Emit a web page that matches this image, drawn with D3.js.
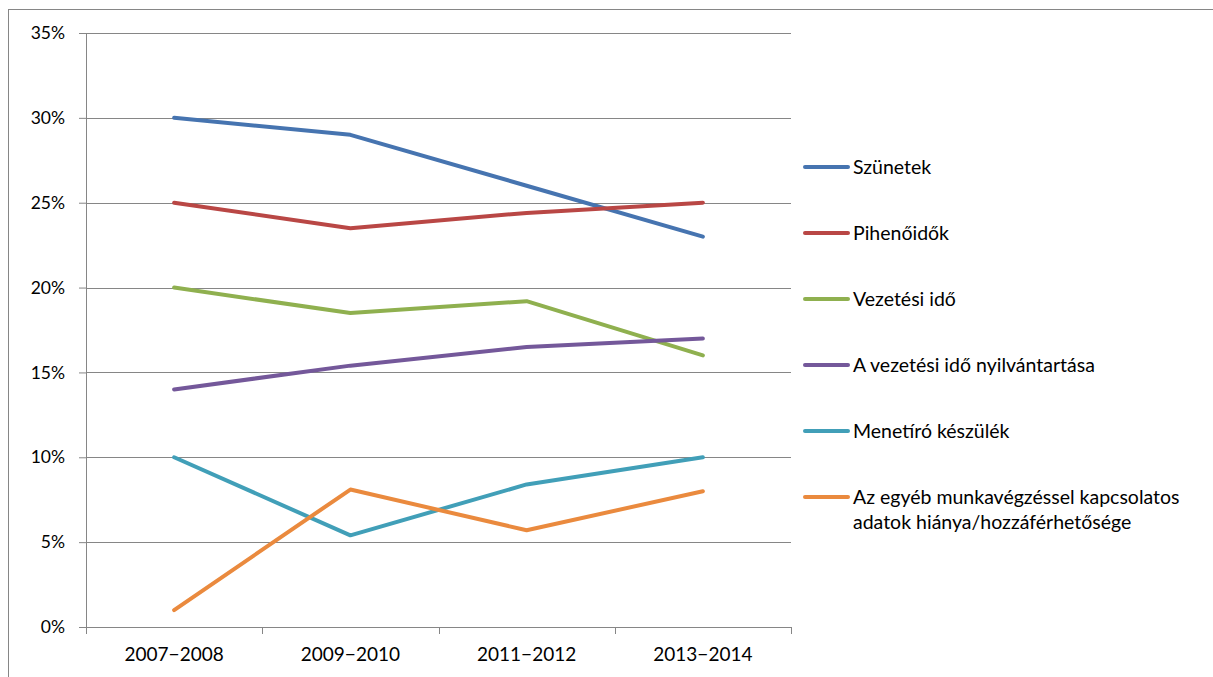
<!DOCTYPE html>
<html>
<head>
<meta charset="utf-8">
<script src="https://cdn.jsdelivr.net/npm/d3@7"></script>
<style>
  body { margin: 0; background: #fff; }
  svg text { font-family: Lato, "Open Sans", sans-serif; fill: #000; }
</style>
</head>
<body>
<div id="chart"></div>
<script>
// data
const periods = ["2007\u22122008", "2009\u22122010", "2011\u22122012", "2013\u22122014"];
const seriesNames = [
  "Szünetek",
  "Pihenőidők",
  "Vezetési idő",
  "A vezetési idő nyilvántartása",
  "Menetíró készülék",
  "Az egyéb munkavégzéssel kapcsolatos adatok hiánya/hozzáférhetősége"
];
const szunetek = [30, 29, 26, 23];
const pihenoidok = [25, 23.5, 24.4, 25];
const vezetesiIdo = [20, 18.5, 19.2, 16];
const nyilvantartas = [14, 15.4, 16.5, 17];
const menetiro = [10, 5.4, 8.4, 10];
const egyeb = [1, 8.1, 5.7, 8];
const yTicks = [0, 5, 10, 15, 20, 25, 30, 35];
const colors = ["#4674b0", "#b94745", "#8fb04f", "#74589a", "#419fb8", "#ea8a3e"];

const allValues = [szunetek, pihenoidok, vezetesiIdo, nyilvantartas, menetiro, egyeb];
const legendLines = [
  ["Szünetek"], ["Pihenőidők"], ["Vezetési idő"], ["A vezetési idő nyilvántartása"],
  ["Menetíró készülék"], ["Az egyéb munkavégzéssel kapcsolatos", "adatok hiánya/hozzáférhetősége"]
];

let margin = { top: 33, left: 86 },
    width = 705,
    height = 594;

let svg = d3.select("#chart").append("svg")
  .attr("width", 1213)
  .attr("height", 677);

// outer frame
svg.append("rect")
  .attr("x", 8.5).attr("y", 9.5)
  .attr("width", 1300).attr("height", 800)
  .attr("fill", "none").attr("stroke", "#868686").attr("stroke-width", 1);

let g = svg.append("g").attr("transform", `translate(${margin.left},${margin.top})`);

let x = d3.scaleBand().domain(periods).range([0, width]);
let y = d3.scaleLinear().domain([0, 35]).range([height, 0]);

// gridlines
g.selectAll(".grid").data(yTicks).enter().append("line")
  .attr("x1", 0).attr("x2", width)
  .attr("y1", d => Math.round(y(d)) + 0.5).attr("y2", d => Math.round(y(d)) + 0.5)
  .attr("stroke", "#868686").attr("stroke-width", 1);

// y axis
let yAxis = g.append("g")
  .call(d3.axisLeft(y).tickValues(yTicks).tickFormat(d => d + "%").tickSize(7).tickPadding(14));
yAxis.select(".domain").attr("stroke", "#868686").attr("d", `M0.5,0V${height + 7}`);
yAxis.selectAll(".tick line").attr("stroke", "#868686");
yAxis.selectAll(".tick text").attr("font-size", 17.5).style("font-family", "Lato, sans-serif");

// x axis
let xAxis = g.append("g").attr("transform", `translate(0,${height})`)
  .call(d3.axisBottom(x).tickSize(0).tickPadding(21));
xAxis.select(".domain").attr("stroke", "#868686").attr("d", `M0,0.5H${width}`);
xAxis.selectAll(".tick text").attr("font-size", 19).style("font-family", "Lato, sans-serif");
let bounds = periods.map(p => x(p)).concat([width]);
xAxis.selectAll(".bt").data(bounds).enter().append("line")
  .attr("x1", d => Math.round(d) + 0.5).attr("x2", d => Math.round(d) + 0.5)
  .attr("y1", 0).attr("y2", 7)
  .attr("stroke", "#868686");

// lines
let line = d3.line()
  .x((d, i) => x(periods[i]) + x.bandwidth() / 2)
  .y(d => y(d));

g.selectAll(".series").data(allValues).enter().append("path")
  .attr("d", d => line(d))
  .attr("fill", "none")
  .attr("stroke", (d, i) => colors[i])
  .attr("stroke-width", 4)
  .attr("stroke-linecap", "round")
  .attr("stroke-linejoin", "round");

// legend
let leg = svg.selectAll(".leg").data(seriesNames).enter().append("g")
  .attr("transform", (d, i) => `translate(805,${167 + i * 66})`);
leg.append("line")
  .attr("x1", 0).attr("x2", 43)
  .attr("stroke", (d, i) => colors[i])
  .attr("stroke-width", 4)
  .attr("stroke-linecap", "round");
leg.append("text")
  .attr("x", 48)
  .attr("font-size", 19.5)
  .selectAll("tspan").data((d, i) => legendLines[i]).enter().append("tspan")
  .attr("x", 48)
  .attr("dy", (d, j) => j === 0 ? "0.35em" : "1.3em")
  .text(d => d);
</script>
</body>
</html>
